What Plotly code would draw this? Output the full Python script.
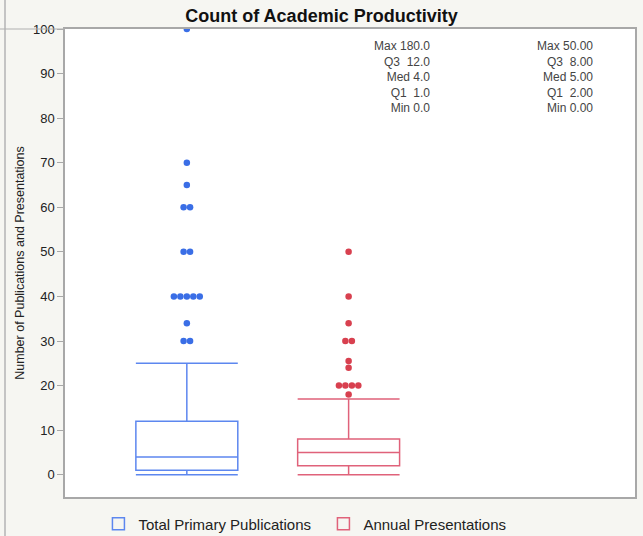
import plotly.graph_objects as go

# ---- data ----
groups = ["Total Primary Publications", "Annual Presentations"]
group_pos = [0, 1]
q1_vals = [1, 2]
median_vals = [4, 5]
q3_vals = [12, 8]
lower_whisker = [0, 0]
upper_whisker = [25, 17]
pub_outliers = [30, 30, 34, 40, 40, 40, 40, 40, 50, 50, 60, 60, 65, 70, 100, 180]
pres_outliers = [18, 20, 20, 20, 20, 24, 25.5, 30, 30, 34, 40, 50]
outliers = [pub_outliers, pres_outliers]
stats_labels = ["Max", "Q3", "Med", "Q1", "Min"]
stats_pub = ["180.0", "12.0", "4.0", "1.0", "0.0"]
stats_pres = ["50.00", "8.00", "5.00", "2.00", "0.00"]

dot_colors = ["#3a6ee6", "#d8404f"]
box_colors = ["#5d87ef", "#e0627a"]

fig = go.Figure()

for i, name in enumerate(groups):
    fig.add_trace(go.Box(
        name=name,
        x=[group_pos[i]],
        q1=[q1_vals[i]], median=[median_vals[i]], q3=[q3_vals[i]],
        lowerfence=[lower_whisker[i]], upperfence=[upper_whisker[i]],
        boxpoints=False, width=0.63, whiskerwidth=1,
        line=dict(color=box_colors[i], width=1.5),
        fillcolor="rgba(255,255,255,0)",
        showlegend=True,
    ))

# spread duplicate outliers side by side
spacing = 0.04
for i, vals in enumerate(outliers):
    xs, ys = [], []
    counts = {}
    for v in vals:
        counts[v] = counts.get(v, 0) + 1
    for v, n in counts.items():
        for k in range(n):
            xs.append(group_pos[i] + (k - (n - 1) / 2) * spacing)
            ys.append(v)
    fig.add_trace(go.Scatter(
        x=xs, y=ys, mode="markers",
        marker=dict(color=dot_colors[i], size=6.5, line=dict(width=0)),
        showlegend=False, hoverinfo="y",
    ))

def stats_text(vals):
    lines = []
    for lab, v in zip(stats_labels, vals):
        sep = "\u00a0\u00a0" if lab in ("Q3", "Q1") else " "
        lines.append(f"{lab}{sep}{v}")
    return "<br>".join(lines)

font_family = "Liberation Sans, Arial, sans-serif"

fig.add_annotation(text=stats_text(stats_pub), xref="paper", yref="paper",
                   x=(432 - 65) / 570, y=1 - (37 - 29) / 468, xanchor="right", yanchor="top",
                   align="right", showarrow=False,
                   font=dict(size=12, color="#444444", family=font_family))
fig.add_annotation(text=stats_text(stats_pres), xref="paper", yref="paper",
                   x=(595 - 65) / 570, y=1 - (37 - 29) / 468, xanchor="right", yanchor="top",
                   align="right", showarrow=False,
                   font=dict(size=12, color="#444444", family=font_family))

# window frame artifacts
fig.add_shape(type="line", xref="paper", yref="paper",
              x0=(5 - 65) / 570, x1=(5 - 65) / 570, y0=-1.0, y1=1.2,
              line=dict(color="#c4c4c4", width=2))
fig.add_shape(type="line", xref="paper", yref="paper",
              x0=(0 - 65) / 570, x1=0, y0=1, y1=1,
              line=dict(color="#b0b0b0", width=1))

fig.update_layout(
    width=643, height=536,
    margin=dict(l=65, r=8, t=29, b=39, autoexpand=False),
    paper_bgcolor="#f6f6f2",
    plot_bgcolor="#ffffff",
    font=dict(family=font_family, color="#222222", size=12),
    title=dict(text="<b>Count of Academic Productivity</b>", x=0.5, xref="container",
               xanchor="center", y=1 - 16 / 536, yanchor="middle", yref="container",
               font=dict(size=18, color="#111111", family=font_family)),
    xaxis=dict(range=[-0.753, 2.77], showticklabels=False, ticks="", showgrid=False,
               zeroline=False, showline=True, mirror=True, linecolor="#a8a8a8", linewidth=1.5),
    yaxis=dict(range=[-5, 100], tickvals=list(range(0, 101, 10)), showgrid=False, zeroline=False,
               showline=True, mirror=True, linecolor="#a8a8a8", linewidth=1.5,
               ticks="outside", ticklen=6, tickcolor="#a8a8a8",
               tickfont=dict(size=13, color="#222222"),
               title=dict(text="Number of Publications and Presentations",
                          font=dict(size=12.5, color="#222222"), standoff=6)),
    legend=dict(orientation="h", x=0.503, xref="container", xanchor="center",
                y=1 - 524 / 536, yref="container", yanchor="middle",
                font=dict(size=15, color="#222222"), bgcolor="rgba(0,0,0,0)",
                itemwidth=30, entrywidth=180, entrywidthmode="pixels"),
    showlegend=True,
)

fig.write_html("out.html", config={"displayModeBar": False},
               post_script="document.body.style.margin='0';document.body.style.overflow='hidden';")
